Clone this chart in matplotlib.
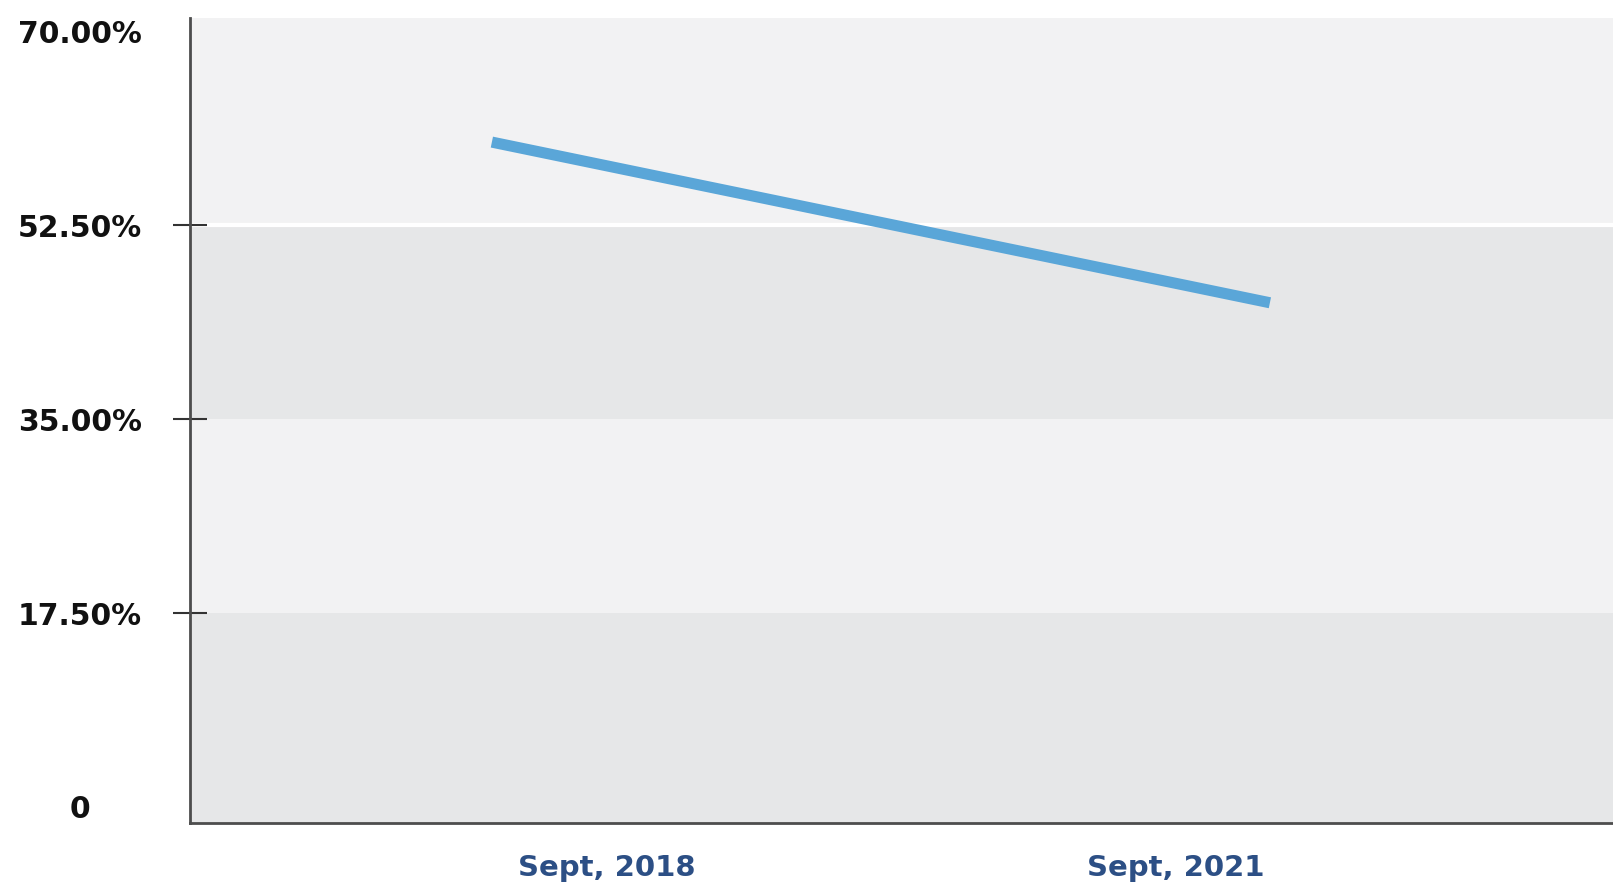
import matplotlib.pyplot as plt
import numpy as np

# values
periods = ["Sept, 2018", "Sept, 2021"]
share = [60.0, 45.5]
ytick_vals = [0, 17.5, 35, 52.5, 70]
ytick_labels = ["0", "17.50%", "35.00%", "52.50%", "70.00%"]

plt.rcParams['font.family'] = ['DejaVu Sans']

fig = plt.figure(figsize=(16.13, 8.86), dpi=100)
ax = fig.add_axes([190 / 1613, 1 - 823 / 886, 1 - 190 / 1613, (823 - 18) / 886])

x = np.arange(len(periods))
ylo, yhi = -1.45, 71.2
ax.set_ylim(ylo, yhi)
ax.set_xlim(-0.388, 1.441)

# alternating bands
band_light = "#f2f2f3"
band_dark = "#e6e7e8"
edges = [ylo, 17.5, 35, 52.5, yhi]
for i in range(len(edges) - 1):
    ax.axhspan(edges[i], edges[i + 1], color=band_dark if i % 2 == 0 else band_light, lw=0, zorder=0)
ax.axhline(52.5, color="white", lw=3, zorder=1)

ax.plot(x, share, color="#5aa6d8", lw=8, solid_capstyle="butt", zorder=3)

# y axis
ax.set_yticks(ytick_vals)
ax.set_yticklabels(ytick_labels, fontsize=21.5, fontweight="bold", color="#111111", ha="center")
ax.tick_params(axis="y", direction="inout", length=25, width=1.5, color="#333333", pad=67)
for t, v in zip(ax.yaxis.get_major_ticks(), ytick_vals):
    if v in (0, 70):
        t.tick1line.set_visible(False)

# x axis labels sit away from the line ends
ax.set_xticks([0.148, 0.879])
ax.set_xticklabels(periods, fontsize=21, fontweight="bold", color="#2c4f85")
ax.tick_params(axis="x", length=0, pad=22)

for s in ["top", "right"]:
    ax.spines[s].set_visible(False)
for s in ["left", "bottom"]:
    ax.spines[s].set_color("#4d4d4d")
    ax.spines[s].set_linewidth(2)

fig.savefig("out.png", dpi=100)
